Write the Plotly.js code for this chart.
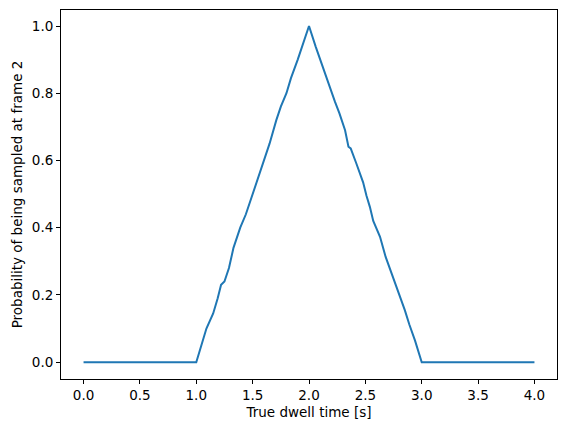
<!DOCTYPE html>
<html>
<head>
<meta charset="utf-8">
<script src="https://cdn.plot.ly/plotly-3.0.1.min.js"></script>
<style>
  html, body { margin: 0; padding: 0; background: #fff; }
  #chart { width: 567px; height: 432px; }
</style>
</head>
<body>
<div id="chart"></div>
<script>
// values
const dwellTime = [0, 1.0, 1.09, 1.15, 1.19, 1.22, 1.25, 1.29, 1.33, 1.39, 1.44, 1.48,
  1.52, 1.56, 1.59, 1.63, 1.65, 1.71, 1.75, 1.80, 1.84, 1.90, 1.96, 2.0,
  2.06, 2.12, 2.18, 2.23, 2.27, 2.32, 2.35, 2.37, 2.42, 2.45, 2.48, 2.51,
  2.54, 2.57, 2.63, 2.68, 2.74, 2.80, 2.85, 2.89, 2.94, 3.0, 4.0]
const probability = [0, 0, 0.10, 0.145, 0.19, 0.23, 0.24, 0.28, 0.34, 0.40, 0.44, 0.48,
  0.515, 0.557, 0.586, 0.625, 0.65, 0.72, 0.76, 0.80, 0.845, 0.90, 0.958, 1.0,
  0.938, 0.879, 0.824, 0.775, 0.74, 0.69, 0.641, 0.636, 0.591, 0.561, 0.535, 0.495,
  0.462, 0.42, 0.373, 0.313, 0.259, 0.199, 0.155, 0.112, 0.065, 0, 0]

const xTicks = [0, 0.5, 1, 1.5, 2, 2.5, 3, 3.5, 4]
const yTicks = [0, 0.2, 0.4, 0.6, 0.8, 1.0]

const font = { family: 'DejaVu Sans, sans-serif', size: 13.5, color: '#000' }

const trace = {
  x: dwellTime,
  y: probability,
  type: 'scatter',
  mode: 'lines',
  line: { color: '#1f77b4', width: 2 },
  hoverinfo: 'skip',
}

const axisBase = {
  showgrid: false,
  zeroline: false,
  showline: true,
  mirror: true,
  linecolor: '#000',
  linewidth: 1,
  ticks: 'outside',
  ticklen: 4,
  tickwidth: 1,
  tickcolor: '#000',
  tickfont: font,
  tickformat: '.1f',
  tickmode: 'array',
}

const layout = {
  width: 567,
  height: 432,
  paper_bgcolor: '#ffffff',
  plot_bgcolor: '#ffffff',
  margin: { l: 61, r: 10, t: 10, b: 53 },
  showlegend: false,
  font: font,
  xaxis: Object.assign({}, axisBase, {
    range: [-0.2, 4.2],
    tickvals: xTicks,
    title: { text: 'True dwell time [s]', font: font, standoff: 5 },
  }),
  yaxis: Object.assign({}, axisBase, {
    range: [-0.05, 1.0476],
    tickvals: yTicks,
    title: { text: 'Probability of being sampled at frame 2', font: font, standoff: 6 },
  }),
}

Plotly.newPlot('chart', [trace], layout, { displayModeBar: false, staticPlot: true })
</script>
</body>
</html>
